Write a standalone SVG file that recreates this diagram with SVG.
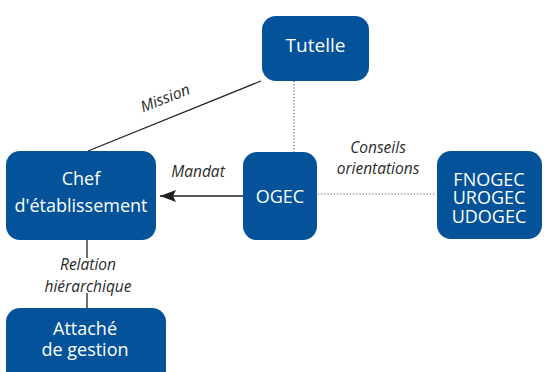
<svg xmlns="http://www.w3.org/2000/svg" width="549" height="372" viewBox="0 0 549 372">
<style>
.box{fill:#03529a}
.bt{font-family:"Open Sans","Noto Sans",sans-serif;font-size:18px;fill:#ffffff;text-anchor:middle}
.lb{font-family:"Open Sans","Noto Sans",sans-serif;font-size:15.5px;font-style:italic;fill:#2b2b2b;text-anchor:middle}
.solid{stroke:#222;stroke-width:1.3;fill:none}
.dot{stroke:#444;stroke-width:1.2;stroke-dasharray:1 2.2;fill:none}
</style>
<defs>
<marker id="ah" markerWidth="16" markerHeight="12" refX="16" refY="6" orient="auto" markerUnits="userSpaceOnUse">
<path d="M0,0 L16,6 L0,12 L3,6 Z" fill="#222"/>
</marker>
</defs>
<g id="connectors">
<line class="solid" x1="261" y1="81" x2="88" y2="151"/>
<line class="dot" x1="294" y1="81" x2="294" y2="152"/>
<line class="dot" x1="318" y1="194" x2="436" y2="194"/>
<line class="solid" x1="243" y1="196" x2="160" y2="196" marker-end="url(#ah)"/>
<line class="solid" x1="87" y1="240" x2="87" y2="258"/>
<line class="solid" x1="87" y1="293" x2="87" y2="308"/>
<text class="lb" transform="translate(167,103) rotate(-21.4)">Mission</text>
<text class="lb" x="198" y="177">Mandat</text>
<text class="lb" x="378" y="153">Conseils</text>
<text class="lb" x="378" y="174">orientations</text>
<text class="lb" x="88" y="270">Relation</text>
<text class="lb" x="88" y="292">hiérarchique</text>
</g>
<g id="tutelle">
<rect class="box" x="262" y="16" width="107" height="65" rx="14"/>
<text class="bt" x="315.5" y="52" style="font-size:19px">Tutelle</text>
</g>
<g id="ogec">
<rect class="box" x="243" y="152" width="74" height="88" rx="14"/>
<text class="bt" x="280" y="203">OGEC</text>
</g>
<g id="fnogec">
<rect class="box" x="437" y="151" width="105" height="88" rx="14"/>
<text class="bt" x="489" y="186">FNOGEC</text>
<text class="bt" x="489" y="204">UROGEC</text>
<text class="bt" x="489" y="222.5">UDOGEC</text>
</g>
<g id="chef">
<rect class="box" x="6" y="151" width="150" height="89" rx="14"/>
<text class="bt" x="81" y="185">Chef</text>
<text class="bt" x="81" y="212">d'établissement</text>
</g>
<g id="attache">
<rect class="box" x="6" y="308" width="160" height="90" rx="14"/>
<text class="bt" x="85" y="335">Attaché</text>
<text class="bt" x="85" y="356">de gestion</text>
</g>
</svg>
